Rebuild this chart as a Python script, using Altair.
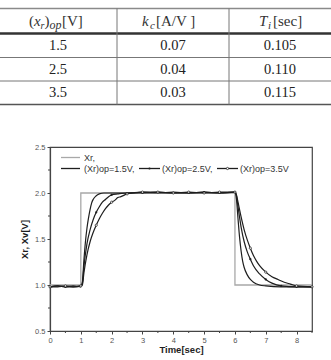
import altair as alt
import pandas as pd

# ---- step response data: time [s] and output voltage [V] ----
t_ref = [0.0, 1.0, 1.0, 6.0, 6.0, 8.5]
v_ref = [1.0, 1.0, 2.0, 2.0, 1.0, 1.0]

t_15 = [0.0, 0.25, 0.5, 0.75, 1.0, 1.05, 1.1, 1.15, 1.2, 1.25, 1.3, 1.35, 1.4, 1.5, 1.6,
        1.75, 2.0, 2.5, 3.0, 3.5, 4.0, 4.5, 5.0, 5.5, 6.0, 6.05, 6.1, 6.15, 6.2, 6.25,
        6.3, 6.4, 6.5, 6.6, 6.8, 7.0, 7.5, 8.0, 8.5]
v_15 = [0.98, 0.99, 0.98, 0.99, 0.98, 1.03, 1.27, 1.47, 1.62, 1.73, 1.82, 1.89, 1.93, 1.97, 1.99,
        2.0, 2.0, 2.0, 2.01, 2.0, 2.01, 2.0, 2.01, 2.0, 2.01, 1.93, 1.72, 1.52, 1.37, 1.26,
        1.19, 1.11, 1.06, 1.03, 1.0, 0.99, 0.98, 0.98, 0.98]

t_25 = [0.0, 0.25, 0.5, 0.75, 1.0, 1.05, 1.1, 1.2, 1.3, 1.4, 1.5, 1.6, 1.7, 1.8, 1.9,
        2.0, 2.2, 2.5, 3.0, 3.5, 4.0, 4.5, 5.0, 5.5, 6.0, 6.05, 6.1, 6.2, 6.3, 6.4,
        6.5, 6.6, 6.8, 7.0, 7.2, 7.5, 8.0, 8.5]
v_25 = [0.98, 0.99, 0.98, 0.98, 0.99, 1.02, 1.2, 1.45, 1.6, 1.71, 1.79, 1.85, 1.9, 1.93, 1.96,
        1.98, 1.99, 2.0, 2.0, 2.01, 2.0, 2.0, 2.01, 2.0, 2.01, 1.97, 1.85, 1.63, 1.47, 1.36,
        1.28, 1.21, 1.12, 1.06, 1.02, 0.99, 0.98, 0.98]

t_35 = [0.0, 0.25, 0.5, 0.75, 1.0, 1.05, 1.1, 1.2, 1.3, 1.4, 1.5, 1.6, 1.7, 1.8, 1.9,
        2.0, 2.1, 2.2, 2.3, 2.5, 2.7, 3.0, 3.5, 4.0, 4.5, 5.0, 5.5, 6.0, 6.05, 6.1,
        6.2, 6.3, 6.4, 6.5, 6.6, 6.7, 6.8, 7.0, 7.2, 7.4, 7.6, 7.8, 8.0, 8.5]
v_35 = [0.98, 0.98, 0.99, 0.98, 0.99, 1.0, 1.13, 1.33, 1.47, 1.57, 1.65, 1.72, 1.78, 1.83, 1.87,
        1.9, 1.92, 1.95, 1.96, 1.99, 2.0, 2.01, 2.01, 2.0, 2.01, 2.0, 2.01, 2.01, 1.98, 1.9,
        1.74, 1.6, 1.49, 1.4, 1.32, 1.26, 1.21, 1.14, 1.09, 1.06, 1.03, 1.01, 0.99, 0.98]

x_ticks = [0, 1, 2, 3, 4, 5, 6, 7, 8]
x_minor = [0.5, 1.5, 2.5, 3.5, 4.5, 5.5, 6.5, 7.5, 8.5]
y_ticks = [0.5, 1.0, 1.5, 2.0, 2.5]
y_minor = [0.75, 1.25, 1.75, 2.25]

legend_labels = ["Xr,", "(Xr)op=1.5V,", "(Xr)op=2.5V,", "(Xr)op=3.5V"]

# ---- PI gain table ----
table_rows = [["1.5", "0.07", "0.105"], ["2.5", "0.04", "0.110"], ["3.5", "0.03", "0.115"]]
# header pieces: text, left x, baseline y, font size, italic
header_text = ["(", "x", "r", ")", "op", "[V]", "k", "c", "[A/V ]", "T", "i", "[sec]"]
header_x = [29, 34, 40.5, 44.5, 49.5, 62, 142, 150, 156, 259, 268, 273]
header_y = [26, 26, 29, 26, 29, 26, 26, 29, 26, 26, 29, 26]
header_size = [15, 15, 10, 15, 12, 15, 15, 11, 15, 15, 11, 15]
header_italic = [False, True, True, False, True, False, True, True, False, True, True, False]

col_center = [58, 173, 280]
row_center = [46, 69.5, 93]
hline_y = [8.5, 33.5, 57.5, 81, 104.5]
hline_w = [1.5, 2.5, 1, 1, 1.5]
hline_c = ["#8a8a8a", "#333333", "#777777", "#777777", "#555555"]
vline_x = [117, 229]

W, H = 262, 184
PAD = {"left": 50, "top": 147, "right": 19, "bottom": 29}
INK = "#1e1e1e"
FONT = "Liberation Sans"
SERIF = "Liberation Serif"


def series(name, t, v):
    return pd.DataFrame({"series": name, "t": t, "v": v, "i": range(len(t))})


ref_df = series("Xr", t_ref, v_ref)
resp_df = pd.concat([
    series("1.5", t_15, v_15),
    series("2.5", t_25, v_25),
    series("3.5", t_35, v_35),
])
resp_df["marker"] = ((resp_df["t"] * 2) % 1 == 0)

xs = alt.Scale(domain=[0, 8.5], nice=False, zero=False)
ys = alt.Scale(domain=[0.5, 2.5], nice=False, zero=False)

x_axis = alt.Axis(values=x_ticks, format="d", tickSize=3, labelFontSize=7.5, labelColor="#555",
                  labelFont=FONT, labelOverlap=False, labelFlush=False,
                  title="Time[sec]", titleFont=FONT, titleFontSize=9.5,
                  titleFontWeight="bold", titleColor=INK, domainColor="#444", tickColor="#444",
                  domainWidth=1.2, grid=False, labelPadding=2, titlePadding=1)
y_axis = alt.Axis(values=y_ticks, format=".1f", tickSize=3, labelFontSize=7.5, labelColor="#555",
                  labelFont=FONT, labelOverlap=False, labelFlush=False,
                  title="Xr, Xv[V]", titleFont=FONT, titleFontSize=9.5,
                  titleFontWeight="bold", titleColor=INK, domainColor="#444", tickColor="#444",
                  domainWidth=1.2, grid=False, labelPadding=2, titlePadding=5)


def X(field="t:Q"):
    return alt.X(field, scale=xs, axis=x_axis)


def Y(field="v:Q"):
    return alt.Y(field, scale=ys, axis=y_axis)


ref_line = alt.Chart(ref_df).mark_line(color="#a8a8a8", strokeWidth=1.3).encode(
    x=X(), y=Y(), order="i:Q",
)

resp_lines = alt.Chart(resp_df).mark_line(color=INK, strokeWidth=1.2, interpolate="monotone").encode(
    x=X(), y=Y(), detail="series:N", order="i:Q",
)

dots_25 = alt.Chart(resp_df).transform_filter(
    (alt.datum.series == "2.5") & alt.datum.marker
).mark_point(shape="circle", filled=True, color=INK, size=5, opacity=1).encode(x=X(), y=Y())

dots_35 = alt.Chart(resp_df).transform_filter(
    (alt.datum.series == "3.5") & alt.datum.marker
).mark_point(shape="circle", filled=True, fill="white", stroke=INK, strokeWidth=0.7,
             size=5, opacity=1).encode(x=X(), y=Y())

x_minor_ticks = alt.Chart(pd.DataFrame({"t": x_minor})).mark_rule(color="#444", strokeWidth=1).encode(
    x=X(), y=alt.value(H), y2=alt.value(H + 2)
)
y_minor_ticks = alt.Chart(pd.DataFrame({"v": y_minor})).mark_rule(color="#444", strokeWidth=1).encode(
    y=Y(), x=alt.value(-2), x2=alt.value(0)
)

# hand-drawn legend inside the plot frame
one = alt.Data(values=[{}])
leg_rows = [
    (11, 30, 10.5, "#a8a8a8", None, 34, legend_labels[0]),
    (11, 30, 21.5, INK, None, 34, legend_labels[1]),
    (89, 110, 21.5, INK, "filled", 112, legend_labels[2]),
    (167, 188, 21.5, INK, "open", 190, legend_labels[3]),
]
legend_layers = []
for x0, x1, yy, col, mk, tx, label in leg_rows:
    legend_layers.append(alt.Chart(one).mark_rule(color=col, strokeWidth=1.3).encode(
        x=alt.value(x0), x2=alt.value(x1), y=alt.value(yy)))
    if mk == "filled":
        legend_layers.append(alt.Chart(one).mark_point(shape="circle", filled=True, color=INK,
                                                       size=5, opacity=1).encode(
            x=alt.value((x0 + x1) / 2), y=alt.value(yy)))
    elif mk == "open":
        legend_layers.append(alt.Chart(one).mark_point(shape="circle", filled=True, fill="white",
                                                       stroke=INK, strokeWidth=0.7, size=5,
                                                       opacity=1).encode(
            x=alt.value((x0 + x1) / 2), y=alt.value(yy)))
    legend_layers.append(alt.Chart(one).mark_text(text=label, align="left", baseline="middle",
                                                  font=FONT, fontSize=9, color="#333").encode(
        x=alt.value(tx), y=alt.value(yy)))

plot = alt.layer(ref_line, resp_lines, dots_25, dots_35, x_minor_ticks, y_minor_ticks,
                 *legend_layers)

# ---- table drawn above the plot, in page pixels through its own scales ----
tx = alt.Scale(domain=[0, 331], range=[-PAD["left"], 331 - PAD["left"]])
ty = alt.Scale(domain=[0, 360], range=[-PAD["top"], 360 - PAD["top"]])

hl_df = pd.DataFrame({"y": hline_y, "w": hline_w, "c": hline_c, "x0": 0, "x1": 331})
hlines = alt.Chart(hl_df).mark_rule().encode(
    x=alt.X("x0:Q", scale=tx, axis=None),
    x2="x1:Q",
    y=alt.Y("y:Q", scale=ty, axis=None),
    strokeWidth=alt.StrokeWidth("w:Q", scale=None),
    color=alt.Color("c:N", scale=None),
)
vl_df = pd.DataFrame({"x": vline_x, "y0": hline_y[0], "y1": hline_y[-1]})
vlines = alt.Chart(vl_df).mark_rule(color="#777", strokeWidth=1).encode(
    x=alt.X("x:Q", scale=tx, axis=None),
    y=alt.Y("y0:Q", scale=ty, axis=None),
    y2="y1:Q",
)

cells = []
for r, row in enumerate(table_rows):
    for c, val in enumerate(row):
        cells.append({"x": col_center[c], "y": row_center[r], "txt": val})
cell_text = alt.Chart(pd.DataFrame(cells)).mark_text(
    font=SERIF, fontSize=14.5, color="#222", baseline="middle", align="center"
).encode(
    x=alt.X("x:Q", scale=tx, axis=None),
    y=alt.Y("y:Q", scale=ty, axis=None),
    text="txt:N",
)

hdr_df = pd.DataFrame({"txt": header_text, "x": header_x, "y": header_y,
                       "s": header_size, "it": header_italic})


def header_layer(italic):
    return alt.Chart(hdr_df).transform_filter(
        alt.datum.it if italic else ~alt.datum.it
    ).mark_text(
        font=SERIF, color="#333", baseline="alphabetic", align="left",
        fontStyle="italic" if italic else "normal",
    ).encode(
        x=alt.X("x:Q", scale=tx, axis=None),
        y=alt.Y("y:Q", scale=ty, axis=None),
        text="txt:N",
        size=alt.Size("s:Q", scale=None),
    )


table = alt.layer(hlines, vlines, cell_text, header_layer(True), header_layer(False))

chart = alt.layer(plot, table).resolve_scale(
    x="independent", y="independent"
).properties(
    width=W, height=H, padding=PAD, autosize=alt.AutoSizeParams(type="none"),
    background="white",
).configure_view(stroke="#444", strokeWidth=1.2)

chart.save("out.html", embed_options={"renderer": "svg", "actions": False})
